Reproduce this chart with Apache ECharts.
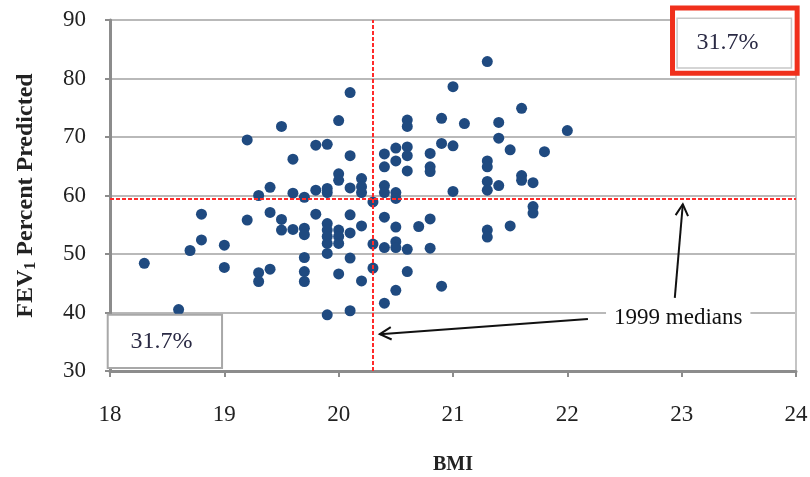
<!DOCTYPE html>
<html><head><meta charset="utf-8">
<script src="https://cdn.jsdelivr.net/npm/echarts@6/dist/echarts.min.js"></script>
<style>html,body{margin:0;padding:0;background:#fff}#c{width:810px;height:477px}</style>
</head><body><div id="c"></div>
<script>
// BMI values (x) and FEV1 percent predicted (y)
const bmi = [
  18.3, 18.6, 18.7, 18.8, 18.8, 19.0, 19.0, 19.2, 19.2, 19.3, 19.3, 19.3,
  19.4, 19.4, 19.4, 19.5, 19.5, 19.5, 19.6, 19.6, 19.6, 19.7, 19.7, 19.7,
  19.7, 19.7, 19.7, 19.8, 19.8, 19.8, 19.9, 19.9, 19.9, 19.9, 19.9, 19.9,
  19.9, 19.9, 19.9, 20.0, 20.0, 20.0, 20.0, 20.0, 20.0, 20.0, 20.1, 20.1,
  20.1, 20.1, 20.1, 20.1, 20.1, 20.2, 20.2, 20.2, 20.2, 20.2, 20.3, 20.3,
  20.3,
  20.4, 20.4, 20.4, 20.4, 20.4, 20.4, 20.4, 20.5, 20.5, 20.5, 20.5, 20.5,
  20.5, 20.5, 20.5, 20.6, 20.6, 20.6, 20.6, 20.6, 20.6, 20.6, 20.7, 20.8,
  20.8, 20.8, 20.8, 20.8, 20.9, 20.9, 20.9, 21.0, 21.0, 21.0, 21.1, 21.3,
  21.3, 21.3, 21.3, 21.3, 21.3, 21.3, 21.4, 21.4, 21.4, 21.5, 21.5, 21.6,
  21.6, 21.6, 21.7, 21.7, 21.7, 21.8, 22.0
];
const fev = [
  48.4, 40.5, 50.6, 56.8, 52.4, 51.5, 47.7, 69.5, 55.8, 60.0, 46.8, 45.3,
  61.4, 57.1, 47.4, 71.8, 55.9, 54.1, 66.2, 60.4, 54.2, 59.7, 54.4, 53.3,
  49.4, 47.0, 45.3, 68.6, 60.9, 56.8, 68.75, 61.2, 60.5, 55.2, 54.1, 53.0,
  51.8, 50.1, 39.6, 72.8, 63.7, 62.6, 54.1, 53.0, 51.8, 46.6, 77.6, 66.8,
  61.3, 56.7, 53.6, 49.3, 40.3, 62.9, 61.5, 60.5, 54.8, 45.4, 58.9, 51.7,
  47.6,
  67.1, 64.9, 61.7, 60.5, 56.3, 51.1, 41.6, 68.1, 65.9, 60.5, 59.5, 54.6,
  52.1, 51.1, 43.8, 72.9, 71.8, 68.3, 66.8, 64.2, 50.8, 47.0, 54.7, 67.2,
  64.9, 64.1, 56.0, 51.0, 73.2, 68.9, 44.5, 78.6, 68.5, 60.7, 72.3, 82.9,
  65.9, 64.9, 62.4, 60.9, 54.1, 52.9, 72.5, 69.8, 61.7, 67.8, 54.8, 74.9,
  63.4, 62.6, 62.2, 58.1, 57.0, 67.5, 71.1
];
const xTicks = [18, 19, 20, 21, 22, 23, 24];
const yTicks = [30, 40, 50, 60, 70, 80, 90];
const medianBMI = 20.3;
const medianFEV = 59.4;
const quadrantLabel = '31.7%';
const annotationText = '1999 medians';

const points = bmi.map((b, i) => [b, fev[i]]);
const serif = '"Liberation Serif", "DejaVu Serif", serif';

const chart = echarts.init(document.getElementById('c'), null, {renderer: 'canvas'});
const option = {
  animation: false,
  backgroundColor: '#fff',
  grid: {left: 110, right: 14, top: 20, bottom: 106, outerBoundsMode: 'none'},
  xAxis: {
    type: 'value', min: xTicks[0], max: xTicks[xTicks.length - 1], interval: 1,
    name: 'BMI', nameLocation: 'middle', nameGap: 84,
    nameTextStyle: {fontFamily: serif, fontSize: 20, fontWeight: 'bold', color: '#222'},
    axisLine: {show: true, onZero: false, lineStyle: {color: '#8c8c8c', width: 3}},
    axisTick: {show: true, length: 6, lineStyle: {color: '#8c8c8c', width: 2}},
    axisLabel: {margin: 32, fontFamily: serif, fontSize: 23, color: '#222'},
    splitLine: {show: false}
  },
  yAxis: [{
    type: 'value', min: yTicks[0], max: yTicks[yTicks.length - 1], interval: 10,
    name: '{a|FEV}{b|1}{a| Percent Predicted}', nameLocation: 'middle', nameGap: 69,
    nameTextStyle: {
      rich: {
        a: {fontFamily: serif, fontSize: 24, fontWeight: 'bold', color: '#222', lineHeight: 30},
        b: {fontFamily: serif, fontSize: 16, fontWeight: 'bold', color: '#222', lineHeight: 30, padding: [10, 0, 0, 0]}
      }
    },
    axisLine: {show: true, onZero: false, lineStyle: {color: '#8c8c8c', width: 3}},
    axisTick: {show: true, length: 5, lineStyle: {color: '#8c8c8c', width: 2}},
    axisLabel: {margin: 24, fontFamily: serif, fontSize: 23, color: '#222'},
    splitLine: {show: true, lineStyle: {color: '#b9b9b9', width: 2}}
  }, {
    type: 'value', position: 'right', min: yTicks[0], max: yTicks[yTicks.length - 1], interval: 10,
    axisLine: {show: true, onZero: false, lineStyle: {color: '#c4c4c4', width: 2}},
    axisTick: {show: false}, axisLabel: {show: false}, splitLine: {show: false}
  }],
  series: [{
    type: 'scatter',
    data: points,
    symbolSize: 11,
    itemStyle: {color: '#1f4a80', opacity: 1},
    z: 3,
    markLine: {
      silent: true, symbol: 'none', animation: false,
      label: {show: false},
      lineStyle: {color: '#ff2a2a', type: [4, 2], width: 2},
      data: [{xAxis: medianBMI}, {yAxis: medianFEV}],
      z: 4
    }
  }]
};
chart.setOption(option);

// annotation anchors in data coordinates
const P = (x, y) => chart.convertToPixel({gridIndex: 0}, [x, y]);
function arrow(from, to) {
  const a = P(from[0], from[1]), b = P(to[0], to[1]);
  const ang = Math.atan2(b[1] - a[1], b[0] - a[0]);
  const L = 13, w = 0.5;
  const p1 = [b[0] - L * Math.cos(ang - w), b[1] - L * Math.sin(ang - w)];
  const p2 = [b[0] - L * Math.cos(ang + w), b[1] - L * Math.sin(ang + w)];
  return [
    {type: 'line', shape: {x1: a[0], y1: a[1], x2: b[0], y2: b[1]}, style: {stroke: '#111', lineWidth: 2}, z: 20},
    {type: 'polyline', shape: {points: [p1, b, p2]}, style: {stroke: '#111', lineWidth: 2, fill: null}, z: 20}
  ];
}
const bl0 = P(17.98, 39.6), bl1 = P(18.98, 30.5), blt = P(18.45, 35.0);
const r0 = P(22.92, 92.05), r1 = P(24.01, 80.9);
const g0 = P(22.96, 90.3), g1 = P(23.96, 81.8), rt = P(23.40, 86.1);
const mt = P(22.97, 39.1);
const graphics = [
  {type: 'rect', shape: {x: bl0[0], y: bl0[1], width: bl1[0] - bl0[0], height: bl1[1] - bl0[1]},
   style: {fill: '#fff', stroke: '#a8a8a8', lineWidth: 2}, z: 10},
  {type: 'text', x: blt[0], y: blt[1], style: {text: quadrantLabel, font: '24px ' + serif, fill: '#2a2a44', align: 'center', verticalAlign: 'middle'}, z: 11},
  {type: 'rect', shape: {x: r0[0], y: r0[1], width: r1[0] - r0[0], height: r1[1] - r0[1]},
   style: {fill: '#fff', stroke: '#f0301c', lineWidth: 5}, z: 10},
  {type: 'rect', shape: {x: g0[0], y: g0[1], width: g1[0] - g0[0], height: g1[1] - g0[1]},
   style: {fill: '#fff', stroke: '#c8c8c8', lineWidth: 1.5}, z: 11},
  {type: 'text', x: rt[0], y: rt[1], style: {text: quadrantLabel, font: '24px ' + serif, fill: '#2a2a44', align: 'center', verticalAlign: 'middle'}, z: 12},
  {type: 'text', x: mt[0], y: mt[1], style: {text: annotationText, font: '23px ' + serif, fill: '#111', align: 'center', verticalAlign: 'middle',
    backgroundColor: '#fff', padding: [2, 8]}, z: 15}
].concat(arrow([22.18, 38.9], [20.36, 36.3]), arrow([22.94, 42.5], [23.01, 58.5]));
chart.setOption({graphic: graphics});
</script></body></html>
